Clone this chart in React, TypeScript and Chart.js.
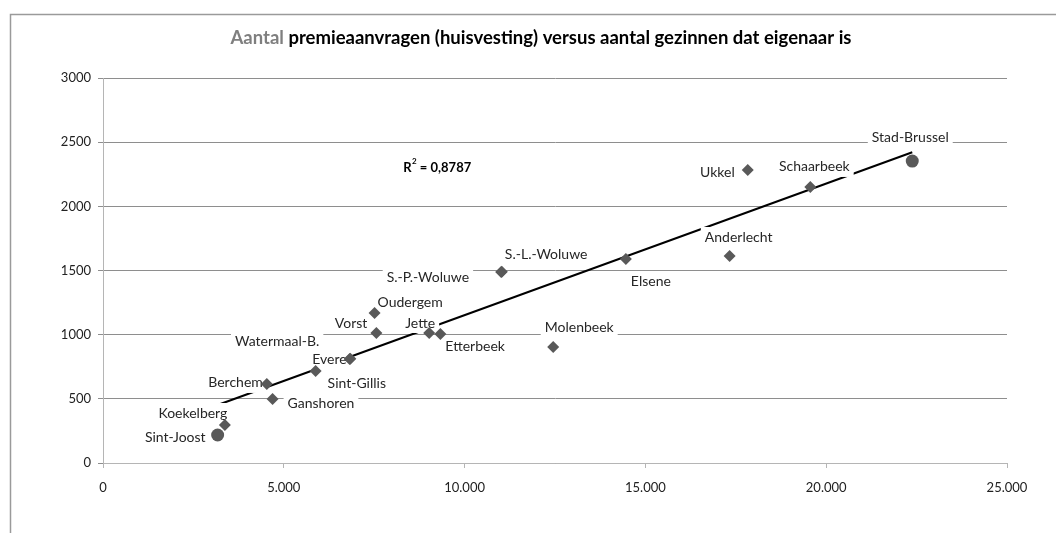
import React, { useEffect, useRef } from 'react';
import { Chart, registerables } from 'chart.js';

Chart.register(...registerables);

// ---- data ----
const communes = [
  'Sint-Joost', 'Koekelberg', 'Berchem', 'Ganshoren', 'Sint-Gillis', 'Evere',
  'Watermaal-B.', 'Vorst', 'Oudergem', 'Jette', 'Etterbeek', 'S.-P.-Woluwe',
  'S.-L.-Woluwe', 'Elsene', 'Molenbeek', 'Anderlecht', 'Ukkel', 'Schaarbeek', 'Stad-Brussel',
];
const ownerFamilies = [
  3170, 3370, 4530, 4690, 5880, 6820,
  6840, 7560, 7510, 9020, 9330, 11010,
  11030, 14460, 12450, 17330, 17830, 19560, 22380,
];
const premiumRequests = [
  218, 296, 616, 499, 717, 810,
  812, 1013, 1169, 1013, 1005, 1488,
  1490, 1590, 904, 1613, 2283, 2151, 2353,
];
const circleCommunes = ['Sint-Joost', 'Stad-Brussel'];

const yTicks = [0, 500, 1000, 1500, 2000, 2500, 3000];
const xTicks = [0, 5000, 10000, 15000, 20000, 25000];

const trendSlope = 0.1025;
const trendIntercept = 127;
const rSquaredText = '0,8787';

const titleGray = 'Aantal';
const titleRest = ' premieaanvragen (huisvesting) versus aantal gezinnen dat eigenaar is';

// label placement: [align, dx, dy] relative to the marker (styling)
const labelPlacement: [string, number, number][] = [
  ['right', -12, 2],   // Sint-Joost
  ['center', -32, -12], // Koekelberg
  ['right', -4, -1],   // Berchem
  ['left', 15, 5],     // Ganshoren
  ['left', 12, 12],    // Sint-Gillis
  ['right', -3, 0],    // Evere
  ['right', -31, -17], // Watermaal-B.
  ['right', -9, -10],  // Vorst
  ['left', 3, -10],    // Oudergem
  ['center', -9, -10], // Jette
  ['left', 5, 12],     // Etterbeek
  ['right', -32, 5],   // S.-P.-Woluwe
  ['left', 3, -17],    // S.-L.-Woluwe
  ['left', 5, 23],     // Elsene
  ['center', 26, -20], // Molenbeek
  ['center', 9, -19],  // Anderlecht
  ['right', -13, 2],   // Ukkel
  ['center', 4, -20],  // Schaarbeek
  ['center', -2, -24], // Stad-Brussel
];

const FONT = 'Lato, "Open Sans", sans-serif';

function fmtX(v: number) {
  if (v === 0) return '0';
  const s = String(Math.round(v));
  return s.replace(/\B(?=(\d{3})+(?!\d))/g, '.');
}

export default function App() {
  const ref = useRef<HTMLCanvasElement | null>(null);

  useEffect(() => {
    const canvas = ref.current;
    if (!canvas) return;

    const points = ownerFamilies.map((x, i) => ({ x, y: premiumRequests[i] }));
    const minX = Math.min(...ownerFamilies);
    const maxX = Math.max(...ownerFamilies);
    const trend = [minX, maxX].map((x) => ({ x, y: trendIntercept + trendSlope * x }));

    const drawLabels = (chart: any) => {
      const ctx = chart.ctx;
      const xs = chart.scales.x;
      const ys = chart.scales.y;
      ctx.save();
      ctx.font = `14px ${FONT}`;
      ctx.textBaseline = 'middle';
      ctx.textAlign = 'left';
      communes.forEach((name, i) => {
        const px = xs.getPixelForValue(ownerFamilies[i]);
        const py = ys.getPixelForValue(premiumRequests[i]);
        const [align, dx, dy] = labelPlacement[i];
        const w = ctx.measureText(name).width;
        const left = align === 'right' ? px + dx - w : align === 'left' ? px + dx : px + dx - w / 2;
        const cy = py + dy;
        ctx.fillStyle = '#ffffff';
        ctx.fillRect(left - 4, cy - 10, w + 8, 20);
        ctx.fillStyle = '#262626';
        ctx.fillText(name, left, cy);
      });
      // R^2 annotation
      const rx = xs.getPixelForValue(8300);
      const ry = ys.getPixelForValue(2300);
      ctx.fillStyle = '#000000';
      ctx.font = `bold 13px ${FONT}`;
      ctx.fillText('R', rx, ry);
      const rw = ctx.measureText('R').width;
      ctx.font = `bold 8px ${FONT}`;
      ctx.fillText('2', rx + rw + 0.5, ry - 6);
      const tw = ctx.measureText('2').width;
      ctx.font = `bold 13px ${FONT}`;
      ctx.fillText(' = ' + rSquaredText, rx + rw + tw + 0.5, ry);
      ctx.restore();
    };

    const decorPlugin = {
      id: 'decor',
      beforeDraw(chart: any) {
        const ctx = chart.ctx;
        ctx.save();
        ctx.fillStyle = '#ffffff';
        ctx.fillRect(0, 0, chart.width, chart.height);
        ctx.strokeStyle = '#9a9a9a';
        ctx.lineWidth = 1.5;
        ctx.beginPath();
        ctx.moveTo(10.5, chart.height);
        ctx.lineTo(10.5, 14.5);
        ctx.lineTo(chart.width, 14.5);
        ctx.stroke();
        ctx.restore();
      },
      afterDatasetDraw(chart: any, args: any) {
        if (args.index === 0) drawLabels(chart);
      },
      afterDraw(chart: any) {
        const ctx = chart.ctx;
        ctx.save();
        ctx.font = `bold 18.5px ${FONT}`;
        ctx.textBaseline = 'middle';
        ctx.textAlign = 'left';
        const w1 = ctx.measureText(titleGray).width;
        const w2 = ctx.measureText(titleRest).width;
        const start = 541 - (w1 + w2) / 2;
        ctx.fillStyle = '#7f7f7f';
        ctx.fillText(titleGray, start, 38);
        ctx.fillStyle = '#000000';
        ctx.fillText(titleRest, start + w1, 38);
        ctx.restore();
      },
    };

    const chart = new Chart(canvas, {
      type: 'scatter',
      data: {
        datasets: [
          {
            type: 'line',
            label: 'Trend',
            data: trend,
            borderColor: '#000000',
            borderWidth: 2,
            pointRadius: 0,
            fill: false,
            order: 1,
          } as any,
          {
            label: 'Gemeenten',
            data: points,
            pointStyle: communes.map((c) => (circleCommunes.includes(c) ? 'circle' : 'rectRot')),
            pointRadius: communes.map((c) => (circleCommunes.includes(c) ? 6.5 : 6)),
            backgroundColor: '#595959',
            borderColor: '#595959',
            borderWidth: 0,
            order: 0,
          },
        ],
      },
      options: {
        responsive: false,
        animation: false,
        layout: { padding: { left: 0, top: 78, right: 49, bottom: 30 } },
        plugins: {
          legend: { display: false },
          title: { display: false },
          tooltip: { enabled: false },
        },
        scales: {
          x: {
            type: 'linear',
            min: 0,
            max: 25000,
            afterBuildTicks: (s: any) => { s.ticks = xTicks.map((v) => ({ value: v })); },
            afterFit: (s: any) => { s.height = 40; },
            grid: { drawOnChartArea: false, drawTicks: true, tickLength: 5, color: '#b5b5b5' },
            border: { display: true, color: '#b5b5b5', width: 1 },
            ticks: {
              padding: 12,
              maxRotation: 0,
              color: '#222222',
              font: { family: FONT, size: 13 },
              callback: (v: any) => fmtX(Number(v)),
            },
          },
          y: {
            type: 'linear',
            min: 0,
            max: 3000,
            afterBuildTicks: (s: any) => { s.ticks = yTicks.map((v) => ({ value: v })); },
            afterFit: (s: any) => { s.width = 103; },
            grid: { color: '#8e8e8e', tickLength: 5, lineWidth: 1 },
            border: { display: true, color: '#b5b5b5', width: 1 },
            ticks: {
              padding: 7,
              color: '#222222',
              font: { family: FONT, size: 13 },
              callback: (v: any) => String(v),
            },
          },
        },
      },
      plugins: [decorPlugin],
    } as any);

    return () => chart.destroy();
  }, []);

  return (
    <div style={{ position: 'fixed', left: 0, top: 0, width: 1056, height: 533, background: '#fff' }}>
      <canvas ref={ref} width={1056} height={533} style={{ width: 1056, height: 533, display: 'block' }} />
    </div>
  );
}
